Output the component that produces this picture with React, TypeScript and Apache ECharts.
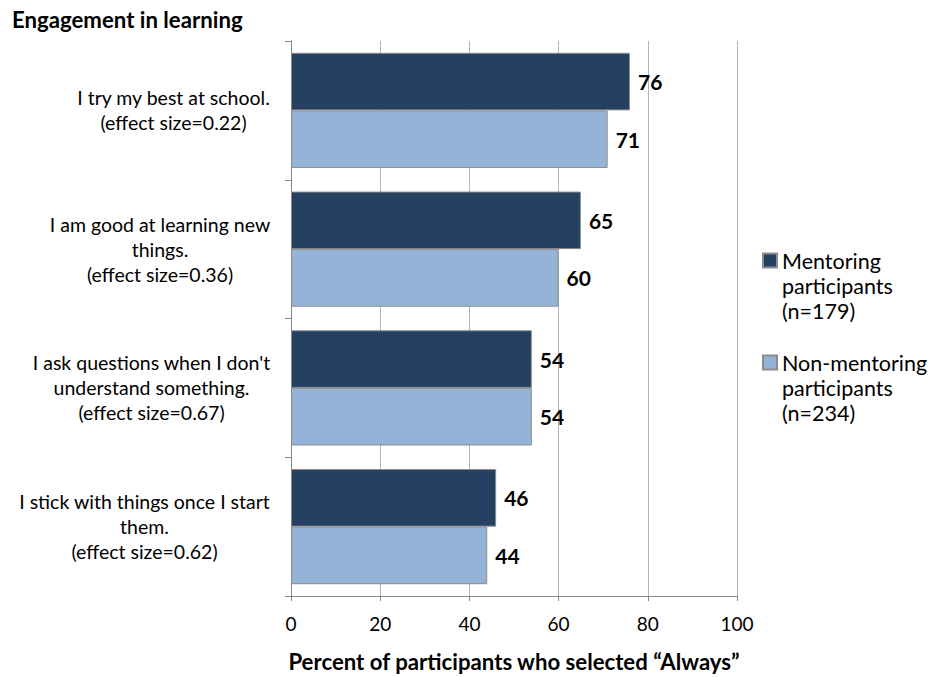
import React, { useEffect, useRef } from "react";
import * as echarts from "echarts";

const chartTitle = "Engagement in learning";
const xAxisTitle = "Percent of participants who selected “Always”";
const categories = [
  "I try my best at school.\n(effect size=0.22)",
  "I am good at learning new\nthings.\n(effect size=0.36)",
  "I ask questions when I don't\nunderstand something.\n(effect size=0.67)",
  "I stick with things once I start\nthem.\n(effect size=0.62)",
];
const seriesNames = ["Mentoring\nparticipants\n(n=179)", "Non-mentoring\nparticipants\n(n=234)"];
const mentoring = [76, 65, 54, 46];
const nonMentoring = [71, 60, 54, 44];
const xMin = 0;
const xMax = 100;
const xStep = 20;

const FONT = "Lato";
const CAT_SIZE = 19.5;

export default function App() {
  const ref = useRef<HTMLDivElement>(null);
  useEffect(() => {
    if (!ref.current) return;
    const chart = echarts.init(ref.current, null, { renderer: "svg" });

    const ctx = document.createElement("canvas").getContext("2d")!;
    ctx.font = `${CAT_SIZE}px ${FONT}`;
    const rich: Record<string, any> = {};
    categories.forEach((c, i) => {
      const w = Math.max(...c.split("\n").map((l) => ctx.measureText(l).width));
      rich["c" + i] = {
        width: Math.ceil(w) + 1,
        align: "center",
        fontSize: CAT_SIZE,
        fontFamily: FONT,
        lineHeight: 25,
        color: "#000",
      };
    });

    const barCommon = {
      type: "bar",
      barGap: "0%",
      barCategoryGap: "17%",
      label: {
        show: true,
        position: "right",
        distance: 8,
        fontWeight: "bold",
        fontSize: 21,
        fontFamily: FONT,
        color: "#000",
      },
      emphasis: { disabled: true },
    };

    chart.setOption({
      animation: false,
      textStyle: { fontFamily: FONT },
      title: {
        text: chartTitle,
        left: 12,
        top: 8,
        padding: 0,
        textStyle: { fontWeight: "bold", fontSize: 22.2, fontFamily: FONT, color: "#000" },
      },
      legend: {
        orient: "vertical",
        left: 762,
        top: 198,
        padding: 0,
        itemWidth: 14,
        itemHeight: 14,
        itemGap: -23,
        icon: "rect",
        data: seriesNames,
        formatter: (name: string) => "\n\n" + name,
        textStyle: {
          fontSize: 21.5,
          fontFamily: FONT,
          color: "#000",
          lineHeight: 25,
        },
      },
      grid: {
        left: 291,
        right: 198,
        top: 41,
        bottom: 81,
        containLabel: false,
        outerBoundsMode: "none",
      },
      xAxis: {
        type: "value",
        min: xMin,
        max: xMax,
        interval: xStep,
        axisLine: { show: true, lineStyle: { color: "#868686", width: 1 } },
        axisTick: { show: true, length: 5, lineStyle: { color: "#868686" } },
        splitLine: { show: true, lineStyle: { color: "#b4b4b4", width: 1 } },
        axisLabel: { fontSize: 19, fontFamily: FONT, color: "#000", margin: 18 },
        name: xAxisTitle,
        nameLocation: "middle",
        nameGap: 54,
        nameTextStyle: { fontWeight: "bold", fontSize: 22.2, fontFamily: FONT, color: "#000" },
      },
      yAxis: {
        type: "category",
        data: categories,
        inverse: true,
        axisLine: { show: true, lineStyle: { color: "#868686", width: 1 } },
        axisTick: { show: true, length: 6, lineStyle: { color: "#868686" } },
        splitLine: { show: false },
        axisLabel: {
          margin: 20,
          formatter: (value: string, index: number) =>
            value
              .split("\n")
              .map((l) => `{c${index}|${l}}`)
              .join("\n"),
          rich,
        },
      },
      series: [
        {
          ...barCommon,
          name: seriesNames[0],
          data: mentoring,
          itemStyle: { color: "#264061", borderColor: "#8c8c8c", borderWidth: 1 },
        },
        {
          ...barCommon,
          name: seriesNames[1],
          data: nonMentoring,
          itemStyle: { color: "#95b3d7", borderColor: "#8c8c8c", borderWidth: 1 },
        },
      ],
    });
    return () => chart.dispose();
  }, []);
  return (
    <div
      ref={ref}
      style={{ position: "fixed", left: 0, top: 0, width: 935, height: 677, background: "#fff" }}
    />
  );
}
